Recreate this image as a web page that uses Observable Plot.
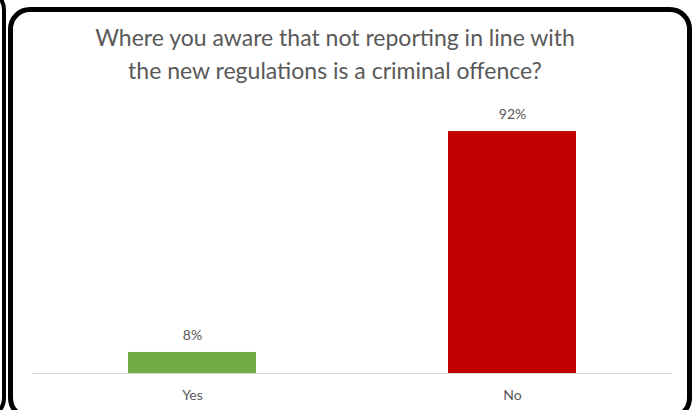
<!DOCTYPE html>
<html>
<head>
<meta charset="utf-8">
<script src="https://cdn.jsdelivr.net/npm/d3@7"></script>
<script src="https://cdn.jsdelivr.net/npm/@observablehq/plot@0.6"></script>
<style>
  html, body { margin: 0; padding: 0; background: #fff; }
  body { width: 697px; height: 410px; position: relative; overflow: hidden; font-family: Lato, "Open Sans", sans-serif; }
  #prev { position: absolute; left: -60px; top: -12px; width: 66px; height: 432px; box-sizing: border-box; border: 4px solid #000; border-radius: 22px; }
  #box { position: absolute; left: 8px; top: 7px; width: 684px; height: 413px; box-sizing: border-box; border: 5px solid #000; border-radius: 22px; background: #fff; }
  #title { position: absolute; left: 0; top: 21px; width: 670px; text-align: center; font-size: 23px; line-height: 33px; color: #595959; }
  #chart { position: absolute; left: 0; top: 95px; }
</style>
</head>
<body>
<div id="prev"></div>
<div id="box"></div>
<div id="title">Where you aware that not reporting in line with<br>the new regulations is a criminal offence?</div>
<div id="chart"></div>
<script>
const categories = ["Yes", "No"];
const values = [8, 92];
const labels = ["8%", "92%"];
const colors = ["#70ad47", "#c00000"];

const data = categories.map((c, i) => ({category: c, value: values[i], label: labels[i], color: colors[i]}));

const chart = Plot.plot({
  width: 697,
  height: 315,
  marginLeft: 32,
  marginRight: 25,
  marginTop: 15,
  marginBottom: 37,
  style: {background: "transparent", fontFamily: "Lato, 'Open Sans', sans-serif", color: "#595959"},
  x: {domain: categories, paddingInner: 0.6, paddingOuter: 0.3, label: null},
  y: {domain: [0, 100], axis: null},
  marks: [
    Plot.barY(data, {x: "category", y: "value", fill: d => d.color}),
    Plot.ruleY([0], {stroke: "#d9d9d9", strokeWidth: 1}),
    Plot.text(data, {x: "category", y: "value", text: "label", dy: -17, fontSize: 14, fill: "#595959"}),
    Plot.axisX({tickSize: 0, tickPadding: 17, fontSize: 14, label: null, color: "#595959"})
  ]
});
document.getElementById("chart").appendChild(chart);
</script>
</body>
</html>
